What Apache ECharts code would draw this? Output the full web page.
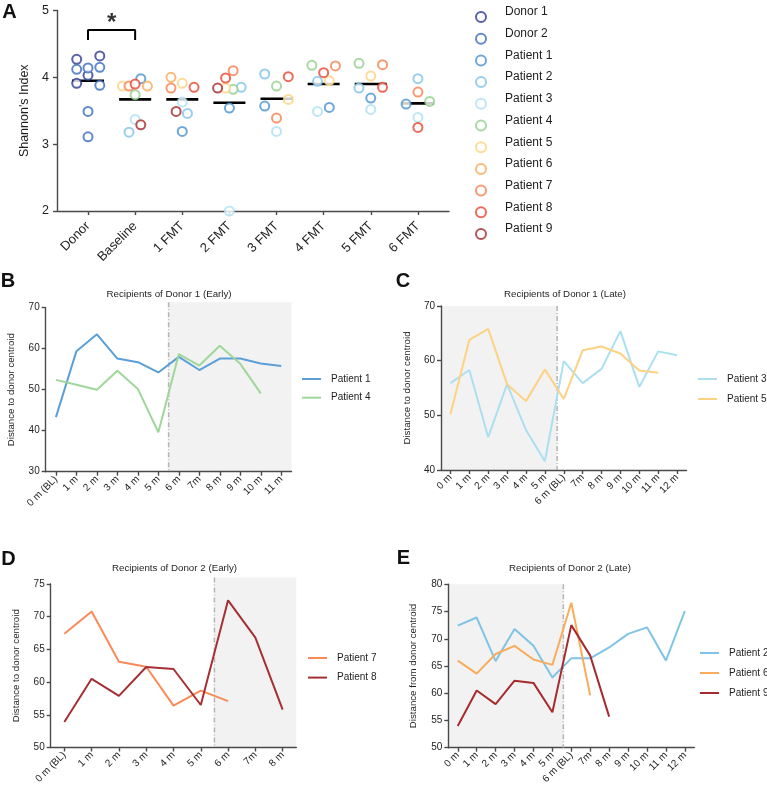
<!DOCTYPE html>
<html>
<head>
<meta charset="utf-8">
<script src="https://cdn.jsdelivr.net/npm/echarts@6.0.0/dist/echarts.min.js"></script>
<style>
html,body{margin:0;padding:0;background:#ffffff;}
#chart{width:767px;height:789px;}
</style>
</head>
<body>
<div id="chart"></div>
<script>
// ---------- Panel A: Shannon's index ----------
const shannonCategories = ['Donor','Baseline','1 FMT','2 FMT','3 FMT','4 FMT','5 FMT','6 FMT'];
const shannonTicks = [2, 3, 4, 5];
const shannonMeans = [3.95, 3.67, 3.67, 3.62, 3.68, 3.90, 3.90, 3.61];
const donor1Shannon = [4.27, 4.32, 4.03, 3.91];
const donor1Jitter  = [-0.24, 0.25, 0, -0.24];
const donor2Shannon = [4.12, 4.14, 4.15, 3.88, 3.49, 3.11];
const donor2Jitter  = [-0.24, 0, 0.25, 0.25, 0, 0];
const patient1Shannon = [null, 3.98, 3.19, 3.54, 3.57, 3.55, 3.69, 3.60];
const patient1Jitter  = [0, 0.12, 0, 0, -0.25, 0.12, 0, -0.25];
const patient2Shannon = [null, 3.18, 3.46, 3.85, 4.05, 3.94, 3.84, 3.98];
const patient2Jitter  = [0, -0.13, 0.11, 0.25, -0.25, -0.13, -0.25, 0];
const patient3Shannon = [null, 3.37, 3.63, 2.00, 3.19, 3.49, 3.52, 3.40];
const patient3Jitter  = [0, 0, 0, 0, 0, -0.13, 0, 0];
const patient4Shannon = [null, 3.74, null, 3.82, 3.87, 4.18, 4.21, 3.64];
const patient4Jitter  = [0, 0, 0, 0.08, 0, -0.25, -0.25, 0.25];
const patient5Shannon = [null, 3.87, 3.91, 3.84, 3.67, 3.95, 4.02, null];
const patient5Jitter  = [0, -0.27, 0, -0.08, 0.25, 0.12, 0, 0];
const patient6Shannon = [null, 3.87, 4.00, null, null, null, null, null];
const patient6Jitter  = [0, 0.26, -0.24, 0, 0, 0, 0, 0];
const patient7Shannon = [null, 3.87, 3.84, 4.10, 3.39, 4.17, 4.19, 3.78];
const patient7Jitter  = [0, -0.13, -0.24, 0.08, 0, 0.25, 0.25, 0];
const patient8Shannon = [null, 3.90, 3.85, 3.99, 4.01, 4.07, 3.85, 3.25];
const patient8Jitter  = [0, 0, 0.25, -0.08, 0.25, 0, 0.25, 0];
const patient9Shannon = [null, 3.29, 3.49, 3.84, null, null, null, null];
const patient9Jitter  = [0, 0.12, -0.13, -0.25, 0, 0, 0, 0];
const sigBracket = [[0, 4.56], [0, 4.71], [1, 4.71], [1, 4.56]];
const sigStar = [[0.5, 4.80]];

// ---------- Panel B: Recipients of Donor 1 (Early) ----------
const monthsB = ['0 m (BL)','1 m','2 m','3 m','4 m','5 m','6 m','7m','8 m','9 m','10 m','11 m'];
const bPatient1 = [43.3, 59.4, 63.5, 57.6, 56.7, 54.2, 58.0, 54.8, 57.6, 57.6, 56.4, 55.8];
const bPatient4 = [52.4, 51.2, 50.0, 54.6, 50.2, 39.6, 58.7, 55.9, 60.7, 56.3, 49.1];

// ---------- Panel C: Recipients of Donor 1 (Late) ----------
const monthsC = ['0 m','1 m','2 m','3 m','4 m','5 m','6 m (BL)','7m','8 m','9 m','10 m','11 m','12 m'];
const cPatient3 = [55.9, 58.3, 46.0, 55.7, 47.3, 41.6, 59.9, 55.9, 58.5, 65.4, 55.2, 61.7, 61.0];
const cPatient5 = [50.2, 63.8, 65.8, 55.7, 52.6, 58.4, 53.0, 61.9, 62.6, 61.3, 58.2, 57.8];

// ---------- Panel D: Recipients of Donor 2 (Early) ----------
const monthsD = ['0 m (BL)','1 m','2 m','3 m','4 m','5 m','6 m','7m','8 m'];
const dPatient7 = [67.4, 70.8, 63.1, 62.35, 56.4, 58.7, 57.1];
const dPatient8 = [53.9, 60.5, 57.9, 62.3, 62.0, 56.5, 72.5, 66.8, 55.8];

// ---------- Panel E: Recipients of Donor 2 (Late) ----------
const monthsE = ['0 m','1 m','2 m','3 m','4 m','5 m','6 m (BL)','7m','8 m','9 m','10 m','11 m','12 m'];
const ePatient2 = [72.4, 73.9, 65.9, 71.8, 68.7, 62.9, 66.4, 66.4, 68.4, 70.9, 72.1, 66.0, 75.1];
const ePatient6 = [66.0, 63.6, 67.2, 68.7, 66.2, 65.2, 76.6, 59.6];
const ePatient9 = [54.0, 60.5, 58.0, 62.3, 61.9, 56.5, 72.5, 66.9, 55.7];

// ---------- styling ----------
const FONT = '"Liberation Sans", Arial, Helvetica, sans-serif';
const AXIS_COLOR = '#4a4a4a';
const TEXT_COLOR = '#1e1e1e';
const COLORS = {
  'Donor 1': '#2c3a92', 'Donor 2': '#3b6dbe', 'Patient 1': '#4a92cf', 'Patient 2': '#7ec3e7',
  'Patient 3': '#aee0f1', 'Patient 4': '#92d08c', 'Patient 5': '#fdd27f', 'Patient 6': '#f9a95a',
  'Patient 7': '#f77f4e', 'Patient 8': '#e64531', 'Patient 9': '#a3292c'
};
const LINE_COLORS = {
  'B|Patient 1': '#5a9fd7', 'B|Patient 4': '#9fd79a',
  'C|Patient 3': '#ace0f0', 'C|Patient 5': '#fdd283',
  'D|Patient 7': '#fa8a57', 'D|Patient 8': '#a53033',
  'E|Patient 2': '#7fc4e6', 'E|Patient 6': '#f9ac5c', 'E|Patient 9': '#a52b2e'
};

const chart = echarts.init(document.getElementById('chart'), null, {renderer: 'canvas'});

function seq(n) { return Array.from({length: n}, (_, i) => i); }

function axisLineStyle() { return {color: AXIS_COLOR, width: 1.4}; }

function catXAxis(grid, labels, min, max, fs, margin) {
  const idx = seq(labels.length);
  return {
    type: 'value', gridIndex: grid, min: min, max: max,
    axisLine: {show: true, onZero: false, lineStyle: axisLineStyle()},
    axisTick: {show: true, customValues: idx, length: 4, lineStyle: axisLineStyle()},
    axisLabel: {show: true, customValues: idx, rotate: 45, margin: margin, fontSize: fs,
      color: TEXT_COLOR, fontFamily: FONT, formatter: (v) => labels[Math.round(v)]},
    splitLine: {show: false}
  };
}
function valYAxis(grid, min, max, interval, name, nameGap, fs, nfs, margin) {
  return {
    type: 'value', gridIndex: grid, min: min, max: max, interval: interval,
    name: name, nameLocation: 'middle', nameRotate: 90, nameGap: nameGap,
    nameTextStyle: {fontSize: nfs, color: TEXT_COLOR, fontFamily: FONT},
    axisLine: {show: true, onZero: false, lineStyle: axisLineStyle()},
    axisTick: {show: true, length: 4, lineStyle: axisLineStyle()},
    axisLabel: {fontSize: fs, color: TEXT_COLOR, fontFamily: FONT, margin: margin},
    splitLine: {show: false}
  };
}

function jittered(vals, jit, fixedCat) {
  const out = [];
  vals.forEach((v, i) => {
    if (v === null) return;
    const cat = fixedCat === undefined ? i : fixedCat;
    out.push([cat + jit[i], v]);
  });
  return out;
}

const scatterDefs = [
  ['Donor 1', jittered(donor1Shannon, donor1Jitter, 0)],
  ['Donor 2', jittered(donor2Shannon, donor2Jitter, 0)],
  ['Patient 1', jittered(patient1Shannon, patient1Jitter)],
  ['Patient 2', jittered(patient2Shannon, patient2Jitter)],
  ['Patient 3', jittered(patient3Shannon, patient3Jitter)],
  ['Patient 4', jittered(patient4Shannon, patient4Jitter)],
  ['Patient 5', jittered(patient5Shannon, patient5Jitter)],
  ['Patient 6', jittered(patient6Shannon, patient6Jitter)],
  ['Patient 7', jittered(patient7Shannon, patient7Jitter)],
  ['Patient 8', jittered(patient8Shannon, patient8Jitter)],
  ['Patient 9', jittered(patient9Shannon, patient9Jitter)]
];

const series = [];
// mean bars
series.push({
  type: 'custom', name: 'mean', xAxisIndex: 0, yAxisIndex: 0, z: 3,
  data: shannonMeans.map((m, i) => [i, m]),
  renderItem: function (params, api) {
    const a = api.coord([api.value(0) - 0.34, api.value(1)]);
    const b = api.coord([api.value(0) + 0.34, api.value(1)]);
    return {type: 'line', shape: {x1: a[0], y1: a[1], x2: b[0], y2: b[1]},
      style: {stroke: '#000', lineWidth: 2.6}};
  }
});
scatterDefs.forEach(([name, data]) => {
  series.push({
    type: 'scatter', name: name, xAxisIndex: 0, yAxisIndex: 0, z: 4,
    symbol: 'emptyCircle', symbolSize: 9,
    itemStyle: {color: COLORS[name], borderColor: COLORS[name], borderWidth: 2},
    emphasis: {disabled: true},
    data: data
  });
});
series.push({
  type: 'line', name: 'bracket', xAxisIndex: 0, yAxisIndex: 0, data: sigBracket,
  symbol: 'none', lineStyle: {color: '#000', width: 2}, z: 5, silent: true
});
series.push({
  type: 'scatter', name: 'star', xAxisIndex: 0, yAxisIndex: 0, data: sigStar,
  symbolSize: 0, silent: true, z: 5,
  label: {show: true, position: 'inside', formatter: '*', fontSize: 24, fontWeight: 'bold',
    color: '#000', fontFamily: FONT}
});

function addLines(grid, defs) {
  defs.forEach(([name, vals]) => {
    series.push({
      type: 'line', name: name, xAxisIndex: grid, yAxisIndex: grid,
      data: vals.map((v, i) => [i, v]),
      symbol: 'none', z: 4,
      lineStyle: {color: LINE_COLORS[name], width: 2},
      itemStyle: {color: LINE_COLORS[name]},
      emphasis: {disabled: true}
    });
  });
}
addLines(1, [['B|Patient 1', bPatient1], ['B|Patient 4', bPatient4]]);
addLines(2, [['C|Patient 3', cPatient3], ['C|Patient 5', cPatient5]]);
addLines(3, [['D|Patient 7', dPatient7], ['D|Patient 8', dPatient8]]);
addLines(4, [['E|Patient 2', ePatient2], ['E|Patient 6', ePatient6], ['E|Patient 9', ePatient9]]);

function lineLegend(names, left, top, gap) {
  return {
    orient: 'vertical', left: left, top: top, padding: 0, itemGap: gap,
    icon: 'rect', itemWidth: 19, itemHeight: 2,
    data: names, selectedMode: false,
    formatter: (n) => n.split('|')[1],
    textStyle: {fontSize: 10, color: TEXT_COLOR, fontFamily: FONT, lineHeight: 12, padding: [0, 0, 0, 5]}
  };
}

const grids = [
  {left: 57, top: 10.5, width: 392, height: 200.5},
  {left: 45.7, top: 307.7, width: 245.8, height: 164},
  {left: 441, top: 306, width: 245.5, height: 164},
  {left: 50.7, top: 584, width: 245.6, height: 163.5},
  {left: 448.3, top: 584.3, width: 246, height: 163.4}
].map(g => Object.assign({outerBoundsMode: 'none', containLabel: false}, g));

const option = {
  animation: false,
  backgroundColor: '#ffffff',
  textStyle: {fontFamily: FONT},
  grid: grids,
  xAxis: [
    catXAxis(0, shannonCategories, -0.658, 7.66, 13, 13),
    catXAxis(1, monthsB, -0.5, monthsB.length - 0.5, 10, 6),
    catXAxis(2, monthsC, -0.5, monthsC.length - 0.5, 10, 6),
    catXAxis(3, monthsD, -0.5, monthsD.length - 0.5, 10, 6),
    catXAxis(4, monthsE, -0.5, monthsE.length - 0.5, 10, 6)
  ],
  yAxis: [
    valYAxis(0, shannonTicks[0], shannonTicks[shannonTicks.length - 1], 1, "Shannon's Index", 18, 12.5, 12.5, 8),
    valYAxis(1, 30, 70, 10, 'Distance to donor centroid', 29, 10, 9.7, 6),
    valYAxis(2, 40, 70, 10, 'Distance to donor centroid', 28.5, 10, 9.7, 6),
    valYAxis(3, 50, 75, 5, 'Distance to donor centroid', 29, 10, 9.7, 6),
    valYAxis(4, 50, 80, 5, 'Distance from donor centroid', 30, 10, 9.7, 6)
  ],
  legend: [
    {
      orient: 'vertical', left: 475, top: 6, padding: 0, itemGap: -0.3,
      itemWidth: 10, itemHeight: 10, selectedMode: false,
      data: scatterDefs.map(d => d[0]),
      itemStyle: {borderWidth: 2},
      formatter: (n) => n + '\n ',
      textStyle: {fontSize: 12, color: TEXT_COLOR, fontFamily: FONT, lineHeight: 10, padding: [0, 0, 0, 14]}
    },
    lineLegend(['B|Patient 1', 'B|Patient 4'], 302, 373, 6.7),
    lineLegend(['C|Patient 3', 'C|Patient 5'], 698, 373, 8),
    lineLegend(['D|Patient 7', 'D|Patient 8'], 308, 652, 7.6),
    lineLegend(['E|Patient 2', 'E|Patient 6', 'E|Patient 9'], 700, 647, 8)
  ],
  series: series
};
chart.setOption(option);

// ---------- shaded periods, transition lines, titles and panel letters ----------
const shadeSpans = [
  {grid: 1, x0: 5.5, x1: 11.5, y0: 30, y1: 71.3, cut: 5.5},
  {grid: 2, x0: -0.5, x1: 5.65, y0: 40, y1: 70, cut: 5.65},
  {grid: 3, x0: 5.5, x1: 8.5, y0: 50, y1: 76, cut: 5.5},
  {grid: 4, x0: -0.5, x1: 5.58, y0: 50, y1: 80, cut: 5.58}
];
const elements = [];
shadeSpans.forEach(s => {
  const p0 = chart.convertToPixel({gridIndex: s.grid}, [s.x0, s.y1]);
  const p1 = chart.convertToPixel({gridIndex: s.grid}, [s.x1, s.y0]);
  elements.push({type: 'rect', z: -10, silent: true,
    shape: {x: p0[0], y: p0[1], width: p1[0] - p0[0], height: p1[1] - p0[1]},
    style: {fill: '#f2f2f2'}});
  const c0 = chart.convertToPixel({gridIndex: s.grid}, [s.cut, s.y1]);
  const c1 = chart.convertToPixel({gridIndex: s.grid}, [s.cut, s.y0]);
  elements.push({type: 'line', z: 1, silent: true,
    shape: {x1: c0[0], y1: c0[1], x2: c1[0], y2: c1[1]},
    style: {stroke: '#b4b4b4', lineWidth: 1.5, lineDash: [5, 2, 1, 2]}});
});
const panelTitles = [
  ['Recipients of Donor 1 (Early)', 169, 294],
  ['Recipients of Donor 1 (Late)', 565, 294],
  ['Recipients of Donor 2 (Early)', 174.5, 568.5],
  ['Recipients of Donor 2 (Late)', 570, 568.5]
];
panelTitles.forEach(([t, x, y]) => {
  elements.push({type: 'text', silent: true, x: x, y: y,
    style: {text: t, fill: TEXT_COLOR, font: '9.75px ' + FONT, textAlign: 'center', textVerticalAlign: 'middle'}});
});
const panelLetters = [['A', 9.5, 12], ['B', 8, 281], ['C', 403, 281], ['D', 8.5, 559.5], ['E', 403.5, 558.5]];
panelLetters.forEach(([t, x, y]) => {
  elements.push({type: 'text', silent: true, x: x, y: y,
    style: {text: t, fill: '#111', font: 'bold 20px ' + FONT, textAlign: 'center', textVerticalAlign: 'middle'}});
});
chart.setOption({graphic: {elements: elements}});
</script>
</body>
</html>
